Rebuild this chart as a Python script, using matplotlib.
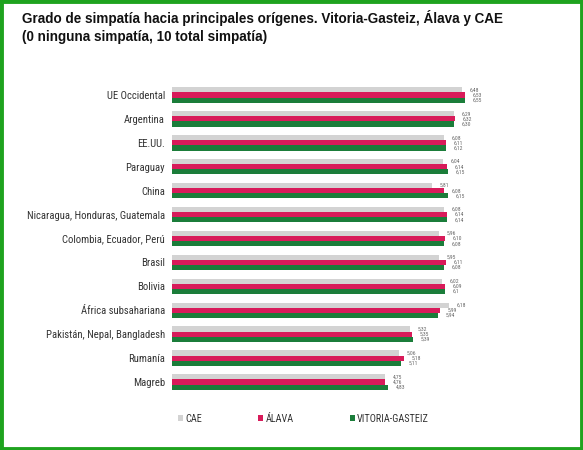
import matplotlib
matplotlib.use("Agg")
import matplotlib.pyplot as plt
from matplotlib.patches import Rectangle
from matplotlib.font_manager import fontManager
import numpy as np

categories = ["UE Occidental", "Argentina", "EE.UU.", "Paraguay", "China",
              "Nicaragua, Honduras, Guatemala", "Colombia, Ecuador, Perú",
              "Brasil", "Bolivia", "África subsahariana",
              "Pakistán, Nepal, Bangladesh", "Rumanía", "Magreb"]
cae = [6.48, 6.29, 6.08, 6.04, 5.81, 6.08, 5.96, 5.95, 6.02, 6.18, 5.32, 5.06, 4.75]
alava = [6.53, 6.32, 6.11, 6.14, 6.08, 6.14, 6.10, 6.11, 6.09, 5.99, 5.35, 5.18, 4.76]
vitoria = [6.55, 6.30, 6.12, 6.15, 6.15, 6.14, 6.08, 6.08, 6.10, 5.94, 5.39, 5.11, 4.83]
cae_labels = ["6,48", "6,29", "6,08", "6,04", "5,81", "6,08", "5,96", "5,95", "6,02", "6,18", "5,32", "5,06", "4,75"]
alava_labels = ["6,53", "6,32", "6,11", "6,14", "6,08", "6,14", "6,10", "6,11", "6,09", "5,99", "5,35", "5,18", "4,76"]
vitoria_labels = ["6,55", "6,30", "6,12", "6,15", "6,15", "6,14", "6,08", "6,08", "6,1", "5,94", "5,39", "5,11", "4,83"]
series_names = ["CAE", "ÁLAVA", "VITORIA-GASTEIZ"]
colors = ["#d3d3d3", "#d81b5a", "#1b7d3a"]


def pick_narrow():
    names = {f.name for f in fontManager.ttflist}
    for p in ["Liberation Sans Narrow", "Roboto Condensed", "Open Sans Condensed",
              "Noto Sans Condensed", "DejaVu Sans Condensed"]:
        if p in names:
            return {"family": [p, "DejaVu Sans"]}
    for f in fontManager.ttflist:
        if f.stretch in ("condensed", "semi-condensed") and f.style == "normal" \
                and f.weight in (400, "normal", "regular") and "Sans" in f.name:
            return {"family": [f.name, "DejaVu Sans"], "stretch": f.stretch}
    return {"family": ["Liberation Sans", "DejaVu Sans"]}


narrow = pick_narrow()

W, H = 583, 450
fig = plt.figure(figsize=(W / 100, H / 100), dpi=100)
renderer = fig.canvas.get_renderer()


def fit_size(text, target_px, props):
    t = fig.text(0, 0, text, fontsize=10, **props)
    w = t.get_window_extent(renderer=renderer).width
    t.remove()
    return 10 * target_px / w


cat_fs = fit_size("Nicaragua, Honduras, Guatemala", 138, narrow)
leg_fs = fit_size("VITORIA-GASTEIZ", 72, narrow)
val_fs = fit_size("6,55", 9.5, narrow)

left_px, right_px = 172, 560
top_px, bottom_px = 83, 394
ax = fig.add_axes([left_px / W, 1 - bottom_px / H, (right_px - left_px) / W, (bottom_px - top_px) / H])
scale = 44.8
ax.set_xlim(0, (right_px - left_px) / scale)
ax.set_ylim(len(categories) - 0.5, -0.5)

y = np.arange(len(categories))
bh = 0.215
bars = []
for i, (vals, labs) in enumerate(zip([cae, alava, vitoria], [cae_labels, alava_labels, vitoria_labels])):
    b = ax.barh(y + (i - 1) * bh, vals, height=bh, color=colors[i], label=series_names[i])
    bars.append(b)
    for yy, v, t in zip(y + (i - 1) * bh, vals, labs):
        ax.annotate(t, (v, yy), xytext=(5.5, 0), textcoords="offset points",
                    va="center", ha="left", fontsize=val_fs, color="#666666", **narrow)

ax.set_yticks(y)
ax.set_yticklabels(categories, fontsize=cat_fs, color="#333333", **narrow)
ax.tick_params(axis="y", length=0, pad=5)
ax.set_xticks([])
for s in ax.spines.values():
    s.set_visible(False)

title_props = dict(fontsize=9.75, fontweight="bold", family=["Liberation Sans", "DejaVu Sans"],
                   va="center", ha="left", color="#111111")
fig.text(22 / W, 1 - 18 / H, "Grado de simpatía hacia principales orígenes. Vitoria-Gasteiz, Álava y CAE", **title_props)
fig.text(22 / W, 1 - 37 / H, "(0 ninguna simpatía, 10 total simpatía)", **title_props)

leg_prop = dict(narrow)
leg_prop["size"] = leg_fs
leg = fig.legend(handles=bars, labels=series_names, ncol=3, loc="center left",
                 bbox_to_anchor=(169 / W, 1 - 419 / H), frameon=False,
                 handlelength=0.5, handleheight=0.5, handletextpad=0.2,
                 columnspacing=56 / (leg_fs * 1.389), prop=leg_prop)
for t in leg.get_texts():
    t.set_color("#333333")

fig.patches.append(Rectangle((0.002, 0.003), 0.996, 0.994, transform=fig.transFigure,
                             fill=False, edgecolor="#1fa31f", linewidth=3.5))

fig.savefig("out.png", dpi=100)
